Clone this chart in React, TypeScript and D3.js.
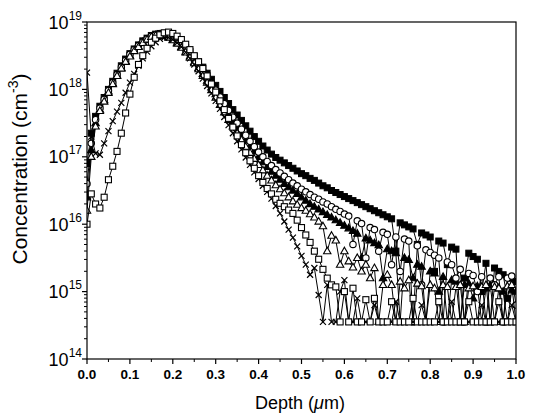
import React from "react";
import * as d3 from "d3";

// sampling depth in um
const depth = [
  0, 0.01, 0.02, 0.03, 0.04, 0.05, 0.06, 0.07, 0.08, 0.09,
  0.1, 0.11, 0.12, 0.13, 0.14, 0.15, 0.16, 0.17, 0.18, 0.19,
  0.2, 0.21, 0.22, 0.23, 0.24, 0.25, 0.26, 0.27, 0.28, 0.29,
  0.3, 0.31, 0.32, 0.33, 0.34, 0.35, 0.36, 0.37, 0.38, 0.39,
  0.4, 0.41, 0.42, 0.43, 0.44, 0.45, 0.46, 0.47, 0.48, 0.49,
  0.5, 0.51, 0.52, 0.53, 0.54, 0.55, 0.56, 0.57, 0.58, 0.59,
  0.6, 0.61, 0.62, 0.63, 0.64, 0.65, 0.66, 0.67, 0.68, 0.69,
  0.7, 0.71, 0.72, 0.73, 0.74, 0.75, 0.76, 0.77, 0.78, 0.79,
  0.8, 0.81, 0.82, 0.83, 0.84, 0.85, 0.86, 0.87, 0.88, 0.89,
  0.9, 0.91, 0.92, 0.93, 0.94, 0.95, 0.96, 0.97, 0.98, 0.99,
  1.0,
];

// log10 of concentration (cm^-3)
const filledSquare = [
  16.9, 17.35, 17.6, 17.75, 17.88, 18.0, 18.12, 18.24, 18.35, 18.45,
  18.53, 18.6, 18.66, 18.72, 18.76, 18.8, 18.82, 18.83, 18.82, 18.8,
  18.77, 18.73, 18.68, 18.62, 18.56, 18.49, 18.41, 18.33, 18.24, 18.15,
  18.06, 17.97, 17.88, 17.79, 17.7, 17.62, 17.54, 17.46, 17.38, 17.3,
  17.23, 17.16, 17.1, 17.04, 16.99, 16.95, 16.91, 16.87, 16.83, 16.79,
  16.75, 16.72, 16.68, 16.65, 16.61, 16.57, 16.54, 16.5, 16.47, 16.44,
  16.41, 16.38, 16.35, 16.32, 16.29, 16.26, 16.23, 16.2, 16.17, 16.14,
  16.11, 16.08, 15.6, 16.02, 15.99, 15.96, 15.93, 15.7, 15.87, 15.84,
  15.81, 15.3, 15.75, 15.72, 15.4, 15.66, 15.63, 14.55, 15.2, 15.57,
  15.52, 15.48, 15.0, 15.42, 14.55, 15.35, 15.3, 15.25, 14.9, 15.2,
  15.15,
];

const openCircle = [
  16.6, 17.2, 17.55, 17.72, 17.85, 17.98, 18.1, 18.22, 18.33, 18.43,
  18.52, 18.59, 18.65, 18.7, 18.75, 18.79, 18.81, 18.82, 18.81, 18.79,
  18.75, 18.71, 18.65, 18.59, 18.52, 18.44, 18.36, 18.27, 18.18, 18.09,
  17.99, 17.89, 17.79, 17.69, 17.59, 17.5, 17.41, 17.32, 17.23, 17.15,
  17.07, 17.0, 16.93, 16.87, 16.81, 16.76, 16.71, 16.66, 16.61, 16.57,
  16.52, 16.48, 16.44, 16.4, 16.37, 16.33, 16.3, 16.26, 16.22, 16.19,
  16.15, 16.12, 15.7, 16.05, 16.01, 15.5, 15.95, 15.92, 15.6, 15.88,
  15.85, 15.4, 15.81, 15.3, 15.78, 15.75, 14.55, 15.68, 15.1, 15.62,
  15.58, 15.54, 15.5, 14.55, 15.44, 15.4, 15.2, 15.33, 14.55, 15.27,
  15.24, 15.0, 15.22, 14.55, 15.2, 15.1, 15.22, 14.55, 15.2, 15.23,
  14.8,
];

const filledTriangle = [
  16.4, 17.1, 17.5, 17.7, 17.84, 17.97, 18.09, 18.21, 18.32, 18.42,
  18.5, 18.58, 18.64, 18.7, 18.74, 18.78, 18.8, 18.81, 18.8, 18.78,
  18.74, 18.69, 18.63, 18.56, 18.49, 18.41, 18.32, 18.23, 18.13, 18.03,
  17.93, 17.83, 17.73, 17.63, 17.53, 17.43, 17.34, 17.25, 17.16, 17.08,
  17.0, 16.92, 16.85, 16.78, 16.72, 16.66, 16.6, 16.55, 16.5, 16.45,
  16.4, 16.35, 16.3, 16.26, 16.22, 16.18, 16.14, 16.1, 16.06, 16.02,
  15.98, 15.94, 15.9, 15.86, 15.5, 15.79, 15.76, 15.72, 15.69, 15.2,
  15.63, 15.6, 15.57, 14.55, 15.5, 15.47, 15.2, 15.4, 15.37, 14.55,
  15.3, 15.27, 15.0, 15.22, 14.55, 15.17, 15.15, 14.55, 15.1, 15.12,
  14.9, 15.08, 14.55, 15.05, 15.1, 14.55, 15.05, 15.0, 14.55, 15.02,
  15.0,
];

const openTriangle = [
  16.2, 17.0, 17.45, 17.68, 17.82, 17.95, 18.08, 18.2, 18.31, 18.41,
  18.49, 18.57, 18.63, 18.69, 18.74, 18.78, 18.8, 18.81, 18.8, 18.77,
  18.73, 18.68, 18.62, 18.55, 18.47, 18.39, 18.3, 18.2, 18.1, 17.99,
  17.88, 17.77, 17.66, 17.55, 17.45, 17.35, 17.25, 17.15, 17.06, 16.97,
  16.88, 16.8, 16.72, 16.65, 16.58, 16.52, 16.46, 16.4, 16.34, 16.29,
  16.24, 16.2, 16.15, 16.1, 16.04, 15.97, 15.6, 15.83, 15.76, 15.4,
  15.6, 15.45, 15.36, 15.5, 15.3, 15.4, 15.2, 15.35, 14.55, 15.1,
  15.25, 15.1, 14.55, 15.15, 15.05, 15.17, 14.55, 15.12, 15.08, 14.55,
  15.1, 15.05, 14.55, 15.1, 15.07, 14.55, 15.07, 15.1, 14.55, 15.05,
  15.08, 14.55, 15.07, 15.1, 14.55, 15.07, 15.05, 14.55, 15.08, 15.1,
  14.55,
];

const cross = [
  18.25, 17.3, 17.05, 17.03, 17.2, 17.38, 17.53, 17.67, 17.8, 17.95,
  18.1, 18.23, 18.35, 18.46, 18.56, 18.64, 18.7, 18.75, 18.77, 18.77,
  18.74, 18.69, 18.63, 18.55, 18.46, 18.37, 18.27, 18.16, 18.05, 17.94,
  17.83, 17.71, 17.59, 17.47, 17.35, 17.23, 17.11, 16.99, 16.88, 16.77,
  16.67, 16.57, 16.48, 16.38, 16.27, 16.16, 16.04, 15.92, 15.8, 15.67,
  15.53, 15.4, 15.25, 15.35, 14.95, 14.55, 15.1, 14.55, 14.55, 15.0,
  15.17, 14.55, 14.55, 14.9, 14.55, 14.55, 14.55, 14.8, 14.55, 14.55,
  14.55, 14.55, 14.85, 14.55, 14.55, 14.55, 14.55, 14.55, 14.8, 14.55,
  14.55, 14.55, 14.55, 14.55, 14.55, 14.85, 14.55, 14.55, 14.55, 14.55,
  14.55, 14.55, 14.8, 14.55, 14.55, 14.55, 14.55, 14.55, 14.55, 14.8,
  14.55,
];

const openSquare = [
  16.0, 16.45, 16.3, 16.24, 16.4, 16.66, 16.86, 17.08, 17.35, 17.65,
  17.93, 18.18, 18.37, 18.5, 18.61, 18.7, 18.76, 18.81, 18.84, 18.85,
  18.83, 18.79, 18.74, 18.67, 18.59, 18.5, 18.41, 18.31, 18.2, 18.08,
  17.96, 17.83, 17.7, 17.57, 17.44, 17.31, 17.18, 17.06, 16.94, 16.83,
  16.72, 16.62, 16.53, 16.45, 16.37, 16.31, 16.26, 16.21, 16.16, 16.06,
  15.95, 15.84, 15.73, 15.6, 15.48, 15.33, 15.2, 15.1, 15.07, 14.55,
  15.0, 14.55, 15.05, 14.55, 14.55, 14.88, 14.55, 14.9, 14.55, 14.55,
  14.55, 14.85, 14.55, 14.55, 14.55, 14.55, 14.9, 14.55, 14.55, 14.55,
  14.55, 14.55, 14.85, 14.55, 14.55, 14.55, 14.55, 14.55, 14.55, 14.85,
  14.55, 14.55, 14.55, 14.55, 14.55, 14.55, 14.85, 14.55, 14.55, 14.55,
  14.55,
];

const xTicks = [0, 0.1, 0.2, 0.3, 0.4, 0.5, 0.6, 0.7, 0.8, 0.9, 1.0];
const yExponents = [14, 15, 16, 17, 18, 19];

const series = [
  { values: filledSquare, marker: "squareFilled" },
  { values: filledTriangle, marker: "triangleFilled" },
  { values: openCircle, marker: "circleOpen" },
  { values: openTriangle, marker: "triangleOpen" },
  { values: cross, marker: "cross" },
  { values: openSquare, marker: "squareOpen" },
];

const W = 533;
const H = 415;
const left = 87;
const right = 516;
const top = 22;
const bottom = 359;
const font = "'Liberation Sans', Arial, Helvetica, sans-serif";

const Marker = ({ kind, x, y }) => {
  const s = "#000";
  if (kind === "squareFilled")
    return <rect x={x - 3} y={y - 3} width={6} height={6} fill={s} stroke={s} strokeWidth={1} />;
  if (kind === "squareOpen")
    return <rect x={x - 3} y={y - 3} width={6} height={6} fill="#fff" stroke={s} strokeWidth={1.1} />;
  if (kind === "circleOpen")
    return <circle cx={x} cy={y} r={3.2} fill="#fff" stroke={s} strokeWidth={1.1} />;
  if (kind === "triangleOpen" || kind === "triangleFilled")
    return (
      <path
        d={`M${x},${y - 4}L${x + 3.7},${y + 2.6}L${x - 3.7},${y + 2.6}Z`}
        fill={kind === "triangleFilled" ? s : "#fff"}
        stroke={s}
        strokeWidth={1.1}
      />
    );
  return (
    <path
      d={`M${x - 3},${y - 3}L${x + 3},${y + 3}M${x - 3},${y + 3}L${x + 3},${y - 3}`}
      stroke={s}
      strokeWidth={1.2}
      fill="none"
    />
  );
};

export default function App() {
  const x = d3.scaleLinear().domain([0, 1]).range([left, right]);
  const y = d3.scaleLog().domain([1e14, 1e19]).range([bottom, top]);

  const line = d3
    .line<number>()
    .x((_, i) => x(depth[i]))
    .y((v) => y(Math.pow(10, v)));

  const minorY = [];
  for (let e = 14; e < 19; e++) {
    for (let m = 2; m <= 9; m++) minorY.push(m * Math.pow(10, e));
  }
  const minorX = [0.05, 0.15, 0.25, 0.35, 0.45, 0.55, 0.65, 0.75, 0.85, 0.95];

  return (
    <svg
      width={W}
      height={H}
      style={{ position: "absolute", left: 0, top: 0, background: "#fff" }}
      fontFamily={font}
    >
      <defs>
        <clipPath id="plot">
          <rect x={left} y={top - 2} width={right - left} height={bottom - top + 2} />
        </clipPath>
      </defs>

      <g clipPath="url(#plot)">
        {series.map((s, si) => (
          <g key={si}>
            <path d={line(s.values)} fill="none" stroke="#000" strokeWidth={1} />
            {s.values.map((v, i) => (
              <Marker key={i} kind={s.marker} x={x(depth[i])} y={y(Math.pow(10, v))} />
            ))}
          </g>
        ))}
      </g>

      {/* frame */}
      <rect x={left} y={top} width={right - left} height={bottom - top} fill="none" stroke="#000" strokeWidth={1.2} />

      {/* x axis */}
      {xTicks.map((t) => (
        <g key={t}>
          <line x1={x(t)} x2={x(t)} y1={bottom} y2={bottom + 5} stroke="#000" strokeWidth={1.2} />
          <text x={x(t)} y={bottom + 20} textAnchor="middle" fontSize={13.5} fontWeight="bold">
            {t.toFixed(1)}
          </text>
        </g>
      ))}
      {minorX.map((t) => (
        <line key={t} x1={x(t)} x2={x(t)} y1={bottom} y2={bottom + 3} stroke="#000" strokeWidth={1} />
      ))}
      <text x={300} y={409} textAnchor="middle" fontSize={18}>
        Depth (<tspan fontStyle="italic">μ</tspan>m)
      </text>

      {/* y axis */}
      {yExponents.map((e) => (
        <g key={e}>
          <line x1={left - 5} x2={left} y1={y(Math.pow(10, e))} y2={y(Math.pow(10, e))} stroke="#000" strokeWidth={1.2} />
          <text x={82} y={y(Math.pow(10, e)) + 6.5} textAnchor="end" fontSize={18}>
            10
            <tspan fontSize={12} dy={-9}>
              {e}
            </tspan>
          </text>
        </g>
      ))}
      {minorY.map((v, i) => (
        <line key={i} x1={left - 3} x2={left} y1={y(v)} y2={y(v)} stroke="#000" strokeWidth={1} />
      ))}
      <text transform="translate(27,169) rotate(-90)" textAnchor="middle" fontSize={21}>
        Concentration (cm
        <tspan fontSize={14} dy={-9}>
          -3
        </tspan>
        <tspan dy={9}>)</tspan>
      </text>
    </svg>
  );
}
